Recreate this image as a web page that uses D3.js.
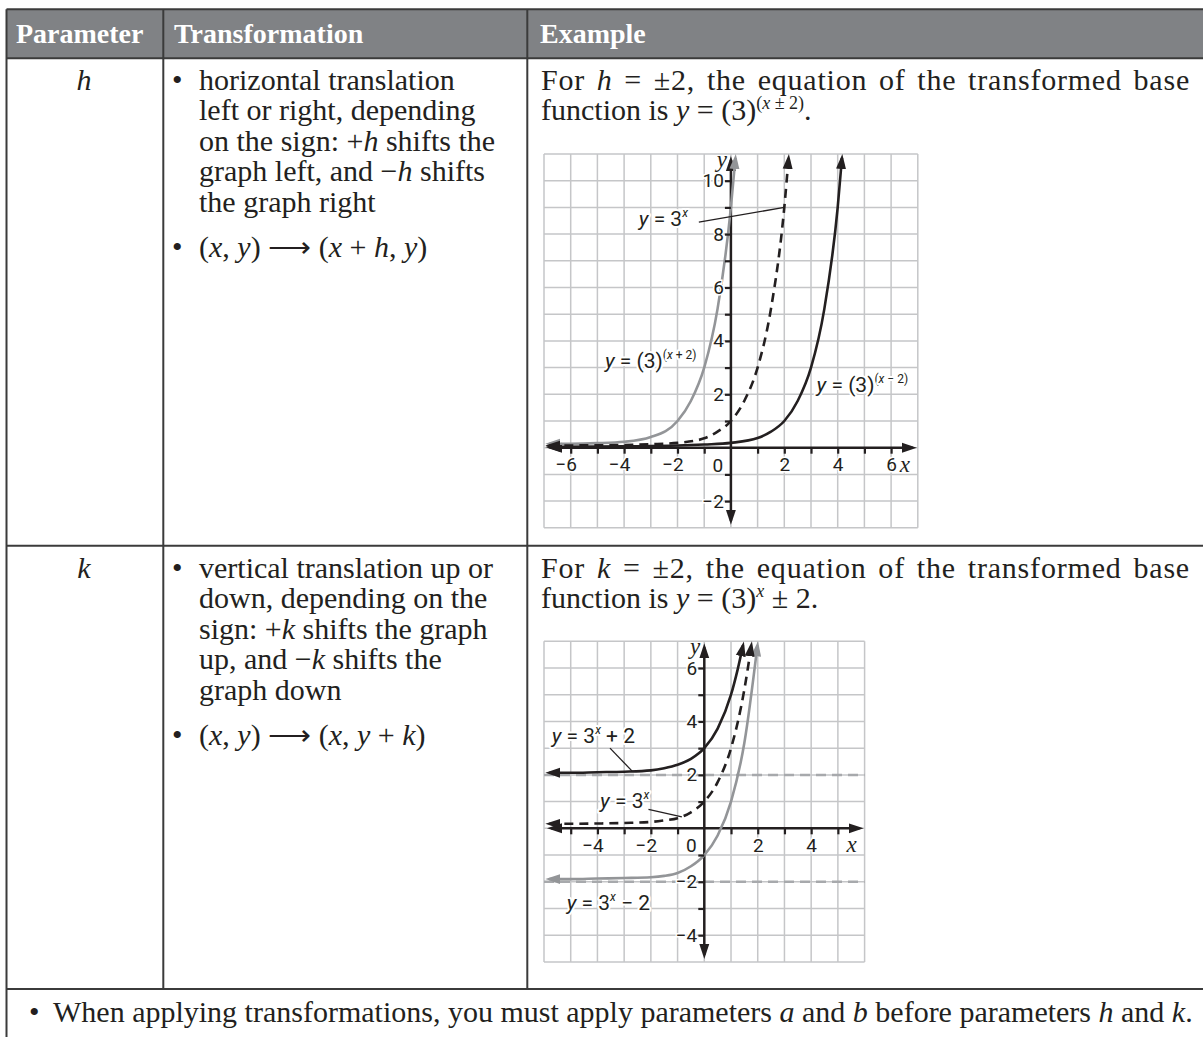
<!DOCTYPE html>
<html>
<head>
<meta charset="utf-8">
<script src="https://cdn.jsdelivr.net/npm/d3@7"></script>
<style>
  html, body { margin: 0; padding: 0; background: #fff; }
  svg { display: block; }
</style>
</head>
<body>
<div id="chart"></div>
<script>
// ---- table text ----
var headers = ["Parameter", "Transformation", "Example"];
var params = ["h", "k"];
var rowLines = [
  ["horizontal translation", "left or right, depending", "on the sign: +_h_ shifts the", "graph left, and \u2212_h_ shifts", "the graph right"],
  ["vertical translation up or", "down, depending on the", "sign: +_k_ shifts the graph", "up, and \u2212_k_ shifts the", "graph down"]
];
var rowRules = ["(_x_, _y_) \u27f6 (_x_ + _h_, _y_)", "(_x_, _y_) \u27f6 (_x_, _y_ + _k_)"];
var rowExamples = [
  ["For _h_ = \u00b12, the equation of the transformed base", "function is _y_ = (3)[(_x_ \u00b1 2)]."],
  ["For _k_ = \u00b12, the equation of the transformed base", "function is _y_ = (3)[_x_] \u00b1 2."]
];
var note = "When applying transformations, you must apply parameters _a_ and _b_ before parameters _h_ and _k_.";

// ---- graph 1 (h): y = 3^x shifted left / right ----
var g1XLabeled = [-6, -4, -2, 2, 4, 6];
var g1YLabeled = [-2, 2, 4, 6, 8, 10];
var g1ShiftLeft = [[-6.8, 0.15], [-6, 0.15], [-5, 0.17], [-4, 0.22], [-3, 0.4], [-2, 1], [-1.5, 1.75], [-1, 3], [-0.5, 5.2], [0, 9], [0.17, 10.85]];
var g1Base = [[-6.8, 0.08], [-5, 0.09], [-4, 0.1], [-3, 0.13], [-2, 0.18], [-1, 0.35], [-0.5, 0.6], [0, 1], [0.5, 1.75], [1, 3], [1.5, 5.2], [2, 9], [2.16, 10.85]];
var g1ShiftRight = [[-6.8, 0.03], [-5, 0.04], [-4, 0.05], [-2, 0.08], [-1, 0.12], [0, 0.18], [1, 0.36], [1.5, 0.6], [2, 1], [2.5, 1.75], [3, 3], [3.5, 5.2], [4, 9], [4.16, 10.85]];

// ---- graph 2 (k): y = 3^x shifted up / down ----
var g2XLabeled = [-4, -2, 2, 4];
var g2YLabeled = [-4, -2, 2, 4, 6];
var g2Asymptotes = [2, -2];
var g2ShiftUp = [[-5.8, 2.08], [-5, 2.08], [-4, 2.1], [-3, 2.12], [-2, 2.17], [-1.5, 2.25], [-1, 2.38], [-0.5, 2.6], [0, 3], [0.5, 3.73], [1, 5], [1.25, 5.95], [1.45, 6.85]];
var g2Base = [[-5.8, 0.17], [-5, 0.17], [-4, 0.18], [-3, 0.2], [-2, 0.24], [-1.5, 0.3], [-1, 0.38], [-0.5, 0.6], [0, 1], [0.5, 1.73], [1, 3], [1.5, 5.2], [1.76, 6.85]];
var g2ShiftDown = [[-5.8, -1.9], [-5, -1.9], [-4, -1.88], [-3, -1.86], [-2, -1.83], [-1.5, -1.78], [-1, -1.67], [-0.5, -1.42], [0, -1], [0.5, -0.27], [1, 1], [1.5, 3.2], [1.99, 6.85]];

var W = 1203, H = 1037;
var INK = "#231f20", GRAY = "#939598", GRID = "#c5c6c8", HEAD = "#808285", RULE = "#3b3b3b";
var SERIF = "'Liberation Serif','Times New Roman',serif";
var SANS = "Roboto,'Liberation Sans',sans-serif";

var svg = d3.select("#chart").append("svg")
    .attr("width", W)
    .attr("height", H)
    .attr("font-family", SERIF);

// "_x_" -> italic, "[...]" -> superscript
function parse(str) {
  var segs = [], it = false, sup = false, buf = "";
  function flush() { if (buf) segs.push({t: buf, i: it, s: sup}); buf = ""; }
  for (var c of str) {
    if (c === "_") { flush(); it = !it; }
    else if (c === "[") { flush(); sup = true; }
    else if (c === "]") { flush(); sup = false; }
    else buf += c;
  }
  flush();
  return segs;
}

function rich(parent, x, y, str, o) {
  var t = parent.append("text")
      .attr("x", x).attr("y", y)
      .attr("font-size", o.size)
      .attr("fill", o.fill || INK)
      .style("white-space", "pre");
  if (o.family) t.attr("font-family", o.family);
  if (o.anchor) t.attr("text-anchor", o.anchor);
  if (o.halo) t.attr("stroke", "#fff").attr("stroke-width", o.halo)
      .attr("stroke-linejoin", "round").attr("paint-order", "stroke");
  var up = false;
  parse(str).forEach(function (s) {
    var ts = t.append("tspan").text(s.t);
    if (s.i) ts.attr("font-style", "italic");
    if (s.s) {
      ts.attr("font-size", o.supSize);
      if (!up) { ts.attr("dy", -o.rise); up = true; }
    } else if (up) {
      ts.attr("dy", o.rise); up = false;
    }
  });
  return t;
}

// justified line: share the missing width between letters and spaces
function justify(t, str, x0, xEnd) {
  var plain = str.replace(/[_\[\]]/g, "");
  var w = t.node().getComputedTextLength();
  var extra = xEnd - x0 - w;
  var n = (plain.match(/ /g) || []).length;
  t.style("letter-spacing", (extra * 0.55 / plain.length) + "px");
  if (n) t.style("word-spacing", (extra * 0.45 / n) + "px");
}

// ---- table frame ----
var colX = [6.5, 163.3, 527.3];
var lineY = [9.3, 58.3, 545.7, 989];

svg.append("rect")
    .attr("x", colX[0]).attr("y", lineY[0])
    .attr("width", W - colX[0]).attr("height", lineY[1] - lineY[0])
    .attr("fill", HEAD);

var headX = [16, 174, 540];
headers.forEach(function (h, i) {
  svg.append("text")
      .attr("x", headX[i]).attr("y", 43)
      .attr("font-size", 28).attr("font-weight", "bold")
      .attr("fill", "#fff")
      .text(h);
});

var BODY = 30, LEAD = 30.6;
var rowBase = [89.5, 577.5];
var ruleBase = [257, 745];

params.forEach(function (p, r) {
  rich(svg, 84, rowBase[r], "_" + p + "_", {size: BODY, anchor: "middle"});

  svg.append("text").attr("x", 172).attr("y", rowBase[r]).attr("font-size", BODY).attr("fill", INK).text("\u2022");
  rowLines[r].forEach(function (line, i) {
    rich(svg, 199, rowBase[r] + i * LEAD, line, {size: BODY});
  });
  svg.append("text").attr("x", 172).attr("y", ruleBase[r]).attr("font-size", BODY).attr("fill", INK).text("\u2022");
  rich(svg, 199, ruleBase[r], rowRules[r], {size: BODY});

  rowExamples[r].forEach(function (line, i) {
    var t = rich(svg, 541, rowBase[r] + i * LEAD, line, {size: BODY, supSize: 18, rise: 11});
    if (i === 0) justify(t, line, 541, 1190);
  });
});

svg.append("text").attr("x", 29).attr("y", 1022).attr("font-size", BODY).attr("fill", INK).text("\u2022");
rich(svg, 53, 1022, note, {size: BODY});

// table rules
lineY.forEach(function (yy) {
  svg.append("line").attr("x1", colX[0]).attr("x2", W).attr("y1", yy).attr("y2", yy)
      .attr("stroke", RULE).attr("stroke-width", 2);
});
colX.forEach(function (xx, i) {
  svg.append("line").attr("x1", xx).attr("x2", xx)
      .attr("y1", lineY[0]).attr("y2", i === 0 ? H : lineY[3])
      .attr("stroke", RULE).attr("stroke-width", 2);
});

// ---- arrow markers ----
var defs = svg.append("defs");
[["arrowInk", INK], ["arrowGray", GRAY]].forEach(function (m) {
  defs.append("marker")
      .attr("id", m[0])
      .attr("viewBox", "0 -6 16 12")
      .attr("markerUnits", "userSpaceOnUse")
      .attr("markerWidth", 16).attr("markerHeight", 12)
      .attr("refX", 11).attr("refY", 0)
      .attr("orient", "auto-start-reverse")
    .append("path")
      .attr("d", "M0,-5L15,0L0,5Z")
      .attr("fill", m[1]);
});

function fmt(v) { return v < 0 ? "\u2212" + (-v) : String(v); }

function drawGraph(o) {
  var g = svg.append("g");
  var x = d3.scaleLinear().domain(o.xDom).range(o.xRange);
  var y = d3.scaleLinear().domain(o.yDom).range(o.yRange);

  // grid
  g.append("g").selectAll("line").data(d3.range(o.xDom[0], o.xDom[1] + 1)).enter().append("line")
      .attr("x1", function (d) { return x(d); }).attr("x2", function (d) { return x(d); })
      .attr("y1", y(o.yDom[0])).attr("y2", y(o.yDom[1]))
      .attr("stroke", GRID).attr("stroke-width", 1.5);
  g.append("g").selectAll("line").data(d3.range(o.yDom[0], o.yDom[1] + 1)).enter().append("line")
      .attr("y1", function (d) { return y(d); }).attr("y2", function (d) { return y(d); })
      .attr("x1", x(o.xDom[0])).attr("x2", x(o.xDom[1]))
      .attr("stroke", GRID).attr("stroke-width", 1.5);

  // dashed asymptotes
  g.append("g").selectAll("line").data(o.asymptotes || []).enter().append("line")
      .attr("x1", x(o.xDom[0])).attr("x2", x(o.xDom[1]))
      .attr("y1", function (d) { return y(d); }).attr("y2", function (d) { return y(d); })
      .attr("stroke", "#a7a9ac").attr("stroke-width", 2.5).attr("stroke-dasharray", "10,6");

  // axis lines with arrows
  g.append("line")
      .attr("x1", x(o.xDom[0]) + 7).attr("x2", x(o.xDom[1]) - 5)
      .attr("y1", y(0)).attr("y2", y(0))
      .attr("stroke", INK).attr("stroke-width", 2.5)
      .attr("marker-start", "url(#arrowInk)").attr("marker-end", "url(#arrowInk)");
  g.append("line")
      .attr("x1", x(0)).attr("x2", x(0))
      .attr("y1", y(o.yDom[0]) - 7).attr("y2", y(o.yDom[1]) + 6)
      .attr("stroke", INK).attr("stroke-width", 2.5)
      .attr("marker-start", "url(#arrowInk)").attr("marker-end", "url(#arrowInk)");

  // curves
  var line = d3.line()
      .x(function (d) { return x(d[0]); })
      .y(function (d) { return y(d[1]); })
      .curve(d3.curveMonotoneX);
  o.curves.forEach(function (c) {
    g.append("path")
        .attr("d", line(c.data))
        .attr("fill", "none")
        .attr("stroke", c.color === "gray" ? GRAY : INK)
        .attr("stroke-width", 2.6)
        .attr("stroke-dasharray", c.dashed ? "9,6" : null)
        .attr("marker-start", c.color === "gray" ? "url(#arrowGray)" : "url(#arrowInk)")
        .attr("marker-end", c.color === "gray" ? "url(#arrowGray)" : "url(#arrowInk)");
  });

  // ticks + labels
  var xAxis = d3.axisBottom(x)
      .tickValues(d3.range(o.xDom[0] + 1, o.xDom[1]).filter(function (v) { return v !== 0; }))
      .tickSize(6).tickPadding(4)
      .tickFormat(function (v) { return o.xLabeled.indexOf(v) >= 0 ? fmt(v) : ""; });
  var yAxis = d3.axisLeft(y)
      .tickValues(d3.range(o.yDom[0] + 1, o.yDom[1]).filter(function (v) { return v !== 0; }))
      .tickSize(6).tickPadding(1)
      .tickFormat(function (v) { return o.yLabeled.indexOf(v) >= 0 ? fmt(v) : ""; });

  var ax = g.append("g").attr("transform", "translate(0," + y(0) + ")").call(xAxis);
  var ay = g.append("g").attr("transform", "translate(" + x(0) + ",0)").call(yAxis);
  [ax, ay].forEach(function (a) {
    a.attr("font-family", null).attr("font-size", null);
    a.select(".domain").remove();
    a.selectAll(".tick line").attr("stroke", INK).attr("stroke-width", 2.2);
    a.selectAll(".tick text")
        .attr("font-family", SANS).attr("font-size", 19).attr("fill", INK)
        .attr("stroke", "#fff").attr("stroke-width", 3).attr("paint-order", "stroke");
  });
  ax.selectAll(".tick text").attr("dx", function (v) { return v < 0 ? -5 : 0; });

  g.append("text").attr("x", x(0) - 13).attr("y", y(0) + 24)
      .attr("text-anchor", "middle").attr("font-family", SANS).attr("font-size", 19).attr("fill", INK)
      .text("0");

  // axis names
  g.append("text").attr("x", x(o.xDom[1]) - 13).attr("y", y(0) + 24)
      .attr("text-anchor", "middle").attr("font-style", "italic").attr("font-size", 23).attr("fill", INK)
      .text("x");
  g.append("text").attr("x", x(0) - 4).attr("y", y(o.yDom[1]) + 13)
      .attr("text-anchor", "end").attr("font-style", "italic").attr("font-size", 23).attr("fill", INK)
      .text("y");

  // leaders + equation labels
  o.leaders.forEach(function (l) {
    g.append("line")
        .attr("x1", x(l[0][0])).attr("y1", y(l[0][1]))
        .attr("x2", x(l[1][0])).attr("y2", y(l[1][1]))
        .attr("stroke", INK).attr("stroke-width", 1.3);
  });
  o.labels.forEach(function (l) {
    rich(g, x(l.at[0]), y(l.at[1]), l.text,
        {size: 21, family: SANS, supSize: 12, rise: 9, halo: 4});
  });
}

drawGraph({
  xDom: [-7, 7], yDom: [-3, 11],
  xRange: [544, 917.8], yRange: [527.8, 154],
  xLabeled: g1XLabeled, yLabeled: g1YLabeled,
  curves: [
    {data: g1ShiftLeft, color: "gray"},
    {data: g1Base, color: "ink", dashed: true},
    {data: g1ShiftRight, color: "ink"}
  ],
  leaders: [[[-1.2, 8.45], [2.0, 9.0]]],
  labels: [
    {text: "_y_ = 3[_x_]", at: [-3.45, 8.3]},
    {text: "_y_ = (3)[(_x_ + 2)]", at: [-4.72, 3.0]},
    {text: "_y_ = (3)[(_x_ \u2212 2)]", at: [3.21, 2.1]}
  ]
});

drawGraph({
  xDom: [-6, 6], yDom: [-5, 7],
  xRange: [544, 864.6], yRange: [961.9, 641.3],
  xLabeled: g2XLabeled, yLabeled: g2YLabeled,
  asymptotes: g2Asymptotes,
  curves: [
    {data: g2ShiftDown, color: "gray"},
    {data: g2Base, color: "ink", dashed: true},
    {data: g2ShiftUp, color: "ink"}
  ],
  leaders: [[[-3.53, 3.0], [-2.7, 2.14]], [[-2.09, 0.71], [-0.84, 0.43]]],
  labels: [
    {text: "_y_ = 3[_x_] + 2", at: [-5.71, 3.18]},
    {text: "_y_ = 3[_x_]", at: [-3.9, 0.75]},
    {text: "_y_ = 3[_x_] \u2212 2", at: [-5.15, -3.06]}
  ]
});
</script>
</body>
</html>
